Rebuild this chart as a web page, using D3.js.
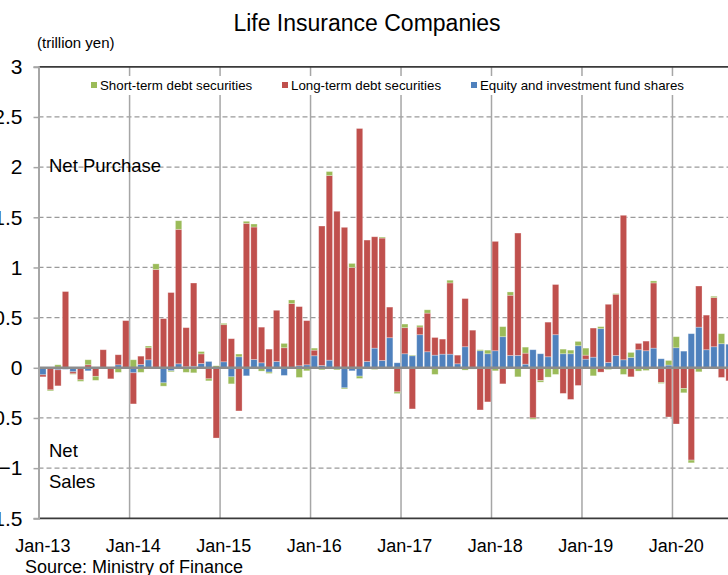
<!DOCTYPE html>
<html>
<head>
<meta charset="utf-8">
<script src="https://cdn.jsdelivr.net/npm/d3@7"></script>
<style>
body { margin: 0; background: #fff; }
svg { display: block; font-family: "Liberation Sans", Arial, sans-serif; }
</style>
</head>
<body>
<div id="chart"></div>
<script>
// monthly net purchases, trillion yen (Jan-13 .. Aug-20)
const months = d3.timeMonths(new Date(2013, 0, 1), new Date(2020, 8, 1));

const equity = [
    -0.07, 0, -0.02, -0.015, -0.04, 0, -0.03, 0, 0, 0, 0.03, 0,
    -0.05, 0.033, 0.08, 0, -0.15, -0.03, 0.04, 0.01, 0.015, 0.043, 0.063, 0,
    0.06, -0.09, 0.11, -0.08, 0.083, 0.05, -0.043, 0.063, -0.076, 0, 0.02, 0.03,
    0.12, 0.023, 0.076, 0, -0.2, -0.03, -0.083, 0.063, 0.196, 0.073, 0.30, 0.05,
    0.14, 0.12, 0.33, 0.16, 0.126, 0.136, 0.136, 0.04, 0.21, 0, 0.17, 0.14,
    0.17, 0.31, 0.123, 0.123, 0.036, 0.18, 0.14, 0.11, 0.33, 0.14, 0.14, 0.22,
    0.086, 0.106, 0.39, 0.053, 0.123, 0.08, 0.103, 0.18, 0.17, 0.196, 0.09, 0.027,
    0.2, 0.166, 0.34, 0.405, 0.18, 0.21, 0.24, 0.235
];
const longTerm = [
    -0.02, -0.22, -0.16, 0.76, -0.02, -0.12, 0.03, -0.085, 0.18, -0.11, 0.10, 0.47,
    -0.31, 0.083, 0.12, 0.98, 0.49, 0.75, 1.34, 0.39, 0.83, 0.096, -0.11, -0.70,
    0.37, 0.29, -0.43, 1.44, 1.32, 0.355, 0.186, 0.51, 0.2, 0.64, 0.59, 0.44,
    0.056, 1.39, 1.84, 1.56, 1.40, 1.0, 2.385, 1.21, 1.11, 1.22, 0.305, -0.24,
    0.26, -0.41, 0.076, 0.385, 0.176, 0.15, 0.71, 0.086, 0.48, 0.375, -0.42, -0.34,
    1.09, -0.16, 0.60, 1.22, 0.11, -0.5, -0.126, 0.345, 0.5, -0.255, -0.315, -0.176,
    0.04, 0.29, -0.043, 0.58, 0.61, 1.44, -0.09, 0.063, 0.096, 0.65, -0.146, -0.49,
    -0.56, -0.206, -0.92, 0.41, 0.345, 0.49, -0.096, -0.13
];
const shortTerm = [
    0, -0.01, 0.03, 0, -0.005, -0.015, 0.05, -0.04, -0.01, 0, -0.045, 0,
    0.08, -0.045, 0.017, 0.056, -0.033, -0.01, 0.086, -0.045, -0.05, 0.023, -0.02, 0.02,
    0.013, -0.07, 0.027, 0.02, 0.03, -0.033, -0.013, 0, 0.043, 0.036, -0.096, -0.03,
    0.02, -0.02, 0.04, -0.02, -0.01, 0.04, -0.023, 0, -0.017, 0.01, 0, -0.017,
    0.036, 0.007, 0.017, 0.033, -0.066, -0.013, 0.027, 0, -0.023, -0.013, 0.01, 0.036,
    -0.03, 0.1, 0.033, -0.09, 0.06, -0.013, -0.017, -0.093, -0.066, 0.046, 0.036, 0.043,
    0.07, -0.08, 0.02, -0.017, 0.007, -0.066, 0.05, -0.033, -0.027, 0.02, -0.01, 0.046,
    0.11, -0.043, -0.027, -0.04, 0, 0.013, 0.1, 0
];

const seriesNames = ["Short-term debt securities", "Long-term debt securities", "Equity and investment fund shares"];
const seriesColors = ["#9BBB59", "#C0504D", "#4F81BD"];
const yearLabels = ["Jan-13", "Jan-14", "Jan-15", "Jan-16", "Jan-17", "Jan-18", "Jan-19", "Jan-20"];
const yTicks = [-1.5, -1, -0.5, 0, 0.5, 1, 1.5, 2, 2.5, 3];

const width = 728, height = 575;
const plotLeft = 38.5, plotTop = 66.8, plotBottom = 518.3;

let svg = d3.select("#chart")
    .append("svg")
    .attr("width", width)
    .attr("height", height);

let x = d3.scaleBand()
    .domain(d3.range(months.length))
    .range([plotLeft, plotLeft + 7.54 * 92.16])
    .paddingInner(0.16)
    .paddingOuter(0.16);

let y = d3.scaleLinear()
    .domain([-1.5, 3])
    .range([plotBottom, plotTop]);

// january slots get the year lines / labels
let janIdx = months.map((m, i) => i).filter(i => months[i].getMonth() == 0);
let slotLeft = i => x(i) - x.step() * x.paddingInner() / 2;

// dashed horizontal grid
svg.append("g")
    .selectAll("line")
    .data(yTicks.filter(v => v != 0 && v != 3 && v != -1.5))
    .enter()
    .append("line")
    .attr("x1", plotLeft).attr("x2", width)
    .attr("y1", d => y(d)).attr("y2", d => y(d))
    .attr("stroke", "#9a9a9a")
    .attr("stroke-width", 1.2)
    .attr("stroke-dasharray", "5,3");

// vertical year lines
svg.append("g")
    .selectAll("line")
    .data(janIdx.slice(1))
    .enter()
    .append("line")
    .attr("x1", d => slotLeft(d)).attr("x2", d => slotLeft(d))
    .attr("y1", plotTop).attr("y2", plotBottom)
    .attr("stroke", "#a6a6a6")
    .attr("stroke-width", 1.5);

// legend box hides grid behind it
let legend = svg.append("g");
legend.append("rect")
    .attr("x", 80).attr("y", 76)
    .attr("width", 612).attr("height", 19)
    .attr("fill", "#fff");
const legendX = [91, 282, 471];
seriesNames.forEach((name, k) => {
    legend.append("rect")
        .attr("x", legendX[k]).attr("y", 82)
        .attr("width", 6).attr("height", 6)
        .attr("fill", seriesColors[k]);
    legend.append("text")
        .attr("x", legendX[k] + 9).attr("y", 90)
        .style("font-size", "13.3px")
        .text(name);
});

// stacked bars, equity closest to zero
let table = months.map((m, i) => ({ i: i, equity: equity[i], longTerm: longTerm[i], shortTerm: shortTerm[i] }));
let stacked = d3.stack()
    .keys(["equity", "longTerm", "shortTerm"])
    .offset(d3.stackOffsetDiverging)(table);
let color = d3.scaleOrdinal()
    .domain(["shortTerm", "longTerm", "equity"])
    .range(seriesColors);

svg.append("g")
    .selectAll("g")
    .data(stacked)
    .enter()
    .append("g")
    .attr("fill", d => color(d.key))
    .selectAll("rect")
    .data(d => d)
    .enter()
    .append("rect")
    .attr("x", d => x(d.data.i))
    .attr("y", d => y(Math.max(d[0], d[1])))
    .attr("width", x.bandwidth())
    .attr("height", d => Math.abs(y(d[0]) - y(d[1])))
    .attr("stroke", "#fff")
    .attr("stroke-opacity", 0.35)
    .attr("stroke-width", 0.8);

// zero line
svg.append("line")
    .attr("x1", plotLeft).attr("x2", width)
    .attr("y1", y(0)).attr("y2", y(0))
    .attr("stroke", "#8c8c8c")
    .attr("stroke-width", 2.5);

// top and bottom frame
[3, -1.5].forEach(v => {
    svg.append("line")
        .attr("x1", plotLeft).attr("x2", width)
        .attr("y1", y(v)).attr("y2", y(v))
        .attr("stroke", "#3a3a3a")
        .attr("stroke-width", 1.8);
});

// y axis
let yAxis = svg.append("g")
    .attr("transform", `translate(${plotLeft}, 0)`)
    .call(d3.axisLeft(y).tickValues(yTicks).tickSize(5).tickPadding(11).tickFormat(d3.format("")));
yAxis.select(".domain").attr("stroke", "#a6a6a6").attr("stroke-width", 2);
yAxis.selectAll(".tick line").attr("stroke", "#a6a6a6").attr("stroke-width", 1.5);
yAxis.selectAll(".tick text")
    .style("font-size", "21px")
    .style("font-family", "'Liberation Sans', Arial, sans-serif")
    .attr("fill", "#000");

// x axis labels
let xAxis = svg.append("g")
    .attr("transform", `translate(0, ${plotBottom})`)
    .call(d3.axisBottom(x).tickValues(janIdx).tickSize(0).tickPadding(21)
        .tickFormat((d, k) => yearLabels[k]));
xAxis.select(".domain").remove();
xAxis.selectAll(".tick text")
    .style("font-size", "18px")
    .style("font-family", "'Liberation Sans', Arial, sans-serif")
    .attr("fill", "#000");

// titles and notes
svg.append("text")
    .attr("x", 367).attr("y", 31)
    .style("text-anchor", "middle")
    .style("font-size", "23px")
    .text("Life Insurance Companies");

svg.append("text")
    .attr("x", 37).attr("y", 48)
    .style("font-size", "15px")
    .text("(trillion yen)");

svg.append("text")
    .attr("x", 49).attr("y", 172)
    .style("font-size", "18.5px")
    .text("Net Purchase");

svg.append("text")
    .attr("x", 49).attr("y", 457)
    .style("font-size", "18.5px")
    .text("Net");

svg.append("text")
    .attr("x", 49).attr("y", 488)
    .style("font-size", "18.5px")
    .text("Sales");

svg.append("text")
    .attr("x", 25).attr("y", 573)
    .style("font-size", "18px")
    .text("Source: Ministry of Finance");
</script>
</body>
</html>
